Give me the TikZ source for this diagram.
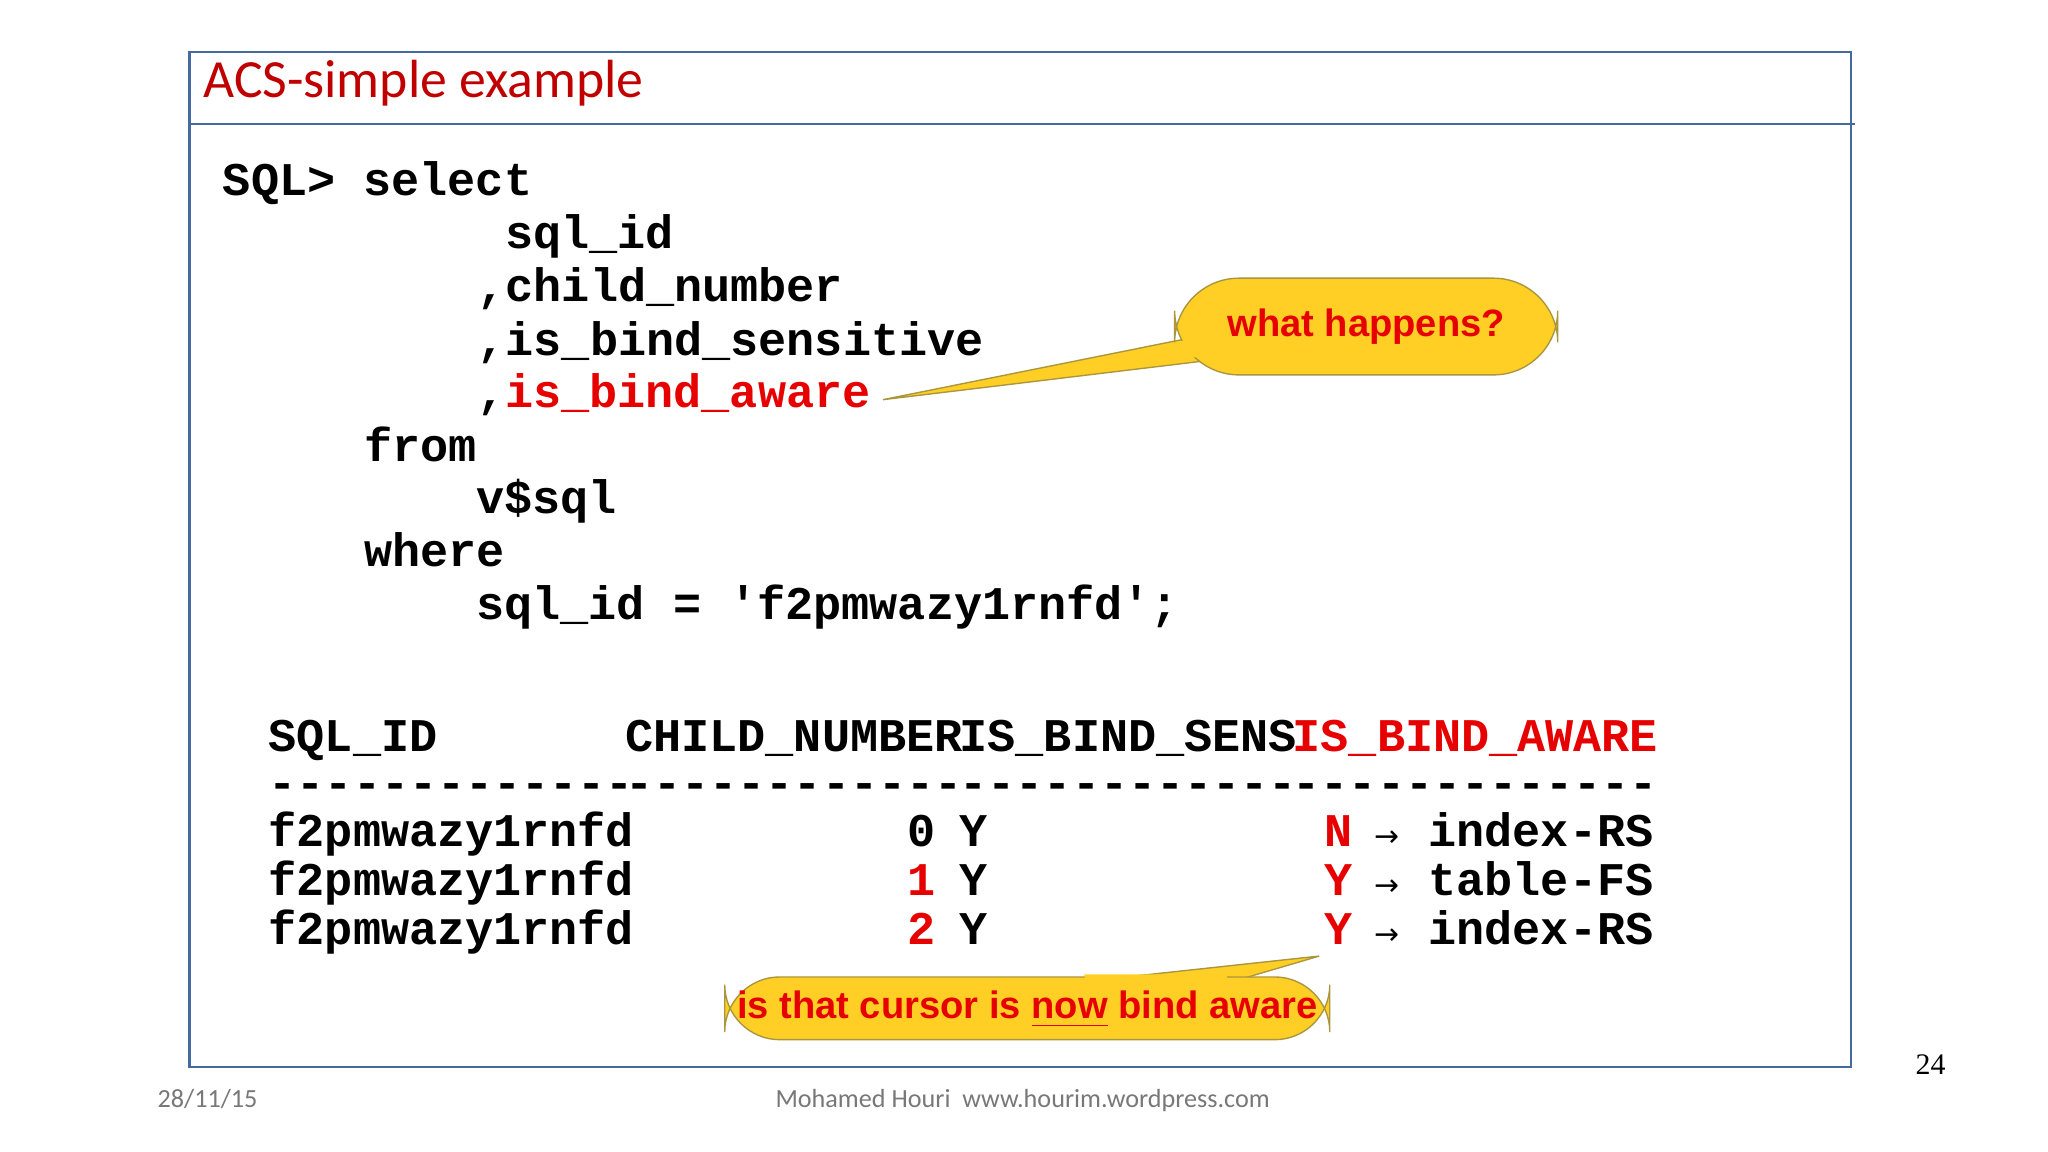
\documentclass[tikz,border=0pt]{standalone}
\usepackage{fontspec}
\setmainfont{Liberation Sans}
\newfontfamily\monof{Liberation Mono}
\newfontfamily\carl{Carlito}
\newfontfamily\serf{Liberation Serif}
\newfontfamily\dejav{DejaVu Sans}
\definecolor{frameblue}{RGB}{68,106,160}
\definecolor{sred}{RGB}{230,0,0}
\definecolor{tred}{RGB}{192,0,0}
\definecolor{cyel}{RGB}{255,207,38}
\definecolor{cedge}{RGB}{170,150,60}
\definecolor{foot}{RGB}{120,120,120}
\begin{document}
\begin{tikzpicture}[x=0.01cm,y=-0.01cm,
  code/.style={anchor=base west,inner sep=0,font=\monof\bfseries\fontsize{10.2}{12}\selectfont},
  rcode/.style={code,text=sred},
  arr/.style={anchor=base west,inner sep=0,font=\dejav\fontsize{6.5}{8}\selectfont},
  calltext/.style={inner sep=0,font=\bfseries\fontsize{8.3}{10}\selectfont,text=sred},
  footer/.style={anchor=base west,inner sep=0,text=foot,font=\carl\fontsize{5.7}{7}\selectfont}]
\useasboundingbox[fill=white] (0,0) rectangle (1568,882);
\draw[frameblue,line width=0.5pt] (145,40) rectangle (1417,817);
\draw[frameblue,line width=0.5pt] (145,95) -- (1420,95);
\node[anchor=base west,inner sep=0,text=tred,font=\carl\fontsize{11.7}{14}\selectfont] (title) at (155,75) {ACS-simple example};
% code
\node[code] (c1) at (170,150) {SQL> select};
\node[code] (c2) at (386,190) {sql\_id};
\node[code] (c3) at (365,231) {,child\_number};
\node[code] (c4) at (365,272) {,is\_bind\_sensitive};
\node[code] (c5a) at (365,312) {,};
\node[rcode] (c5) at (386,312) {is\_bind\_aware};
\node[code] (c6) at (278,353) {from};
\node[code] (c7) at (364,393) {v\$sql};
\node[code] (c8) at (278,434) {where};
\node[code] (c9) at (364,474) {sql\_id = 'f2pmwazy1rnfd';};
% table
\node[code] (h1) at (205,575) {SQL\_ID};
\node[code] (h2) at (478,575) {CHILD\_NUMBER};
\node[code] (h3) at (734,575) {IS\_BIND\_SENS};
\node[rcode] (h4) at (989,575) {IS\_BIND\_AWARE};
\node[code] (d1) at (205,611) {-------------};
\node[code] (d2) at (478,611) {------------};
\node[code] (d3) at (734,611) {------------};
\node[code] (d4) at (989,611) {-------------};
\foreach \y/\n/\nc/\a/\v [count=\i] in {648/0/black/N/index-RS,686/1/sred/Y/table-FS,723/2/sred/Y/index-RS}{
  \node[code] (r\i a) at (205,\y) {f2pmwazy1rnfd};
  \node[code,text=\nc] (r\i b) at (694,\y) {\n};
  \node[code] (r\i c) at (734,\y) {Y};
  \node[rcode] (r\i d) at (1013,\y) {\a};
  \node[arr] (r\i e) at (1052,\y) {→};
  \node[code] (r\i f) at (1093,\y) {\v};
}
% callout 1
\coordinate (t1) at (676,306);
\fill[cyel,draw=cedge,line width=0.3pt] (925,256) -- (t1) -- (925,276) -- cycle;
\node[fill=cyel,draw=cedge,line width=0.3pt,rounded corners=14pt,minimum width=278\pgflinewidth,
  inner sep=0] (w) at (1046,250) {\tikz[x=1cm,y=1cm]\path (0,0) rectangle (2.78,0.74);};
\fill[cyel] (920,258) -- (900,262) -- (900,272) -- (920,274) -- cycle;
\node[calltext] (wt) at (1046,250) {what happens?};
% callout 2
\coordinate (t2) at (1010,732);
\fill[cyel,draw=cedge,line width=0.3pt] (825,752) -- (t2) -- (942,752) -- cycle;
\node[fill=cyel,draw=cedge,line width=0.3pt,rounded corners=12pt,inner sep=0] (b) at (786.5,772)
  {\tikz[x=1cm,y=1cm]\path (0,0) rectangle (4.63,0.48);};
\fill[cyel] (830,746) -- (940,746) -- (938,752) -- (832,752) -- cycle;
\node[calltext] (bt) at (786.5,773) {is that cursor is \underline{now} bind aware};
% footer
\node[footer] (date) at (120,848) {28/11/15};
\node[footer,anchor=base] (auth) at (783,848) {Mohamed Houri\ \ www.hourim.wordpress.com};
\node[anchor=base west,inner sep=0,font=\serf\fontsize{6.5}{8}\selectfont] (pg) at (1466,823) {24};
\end{tikzpicture}
\end{document}
